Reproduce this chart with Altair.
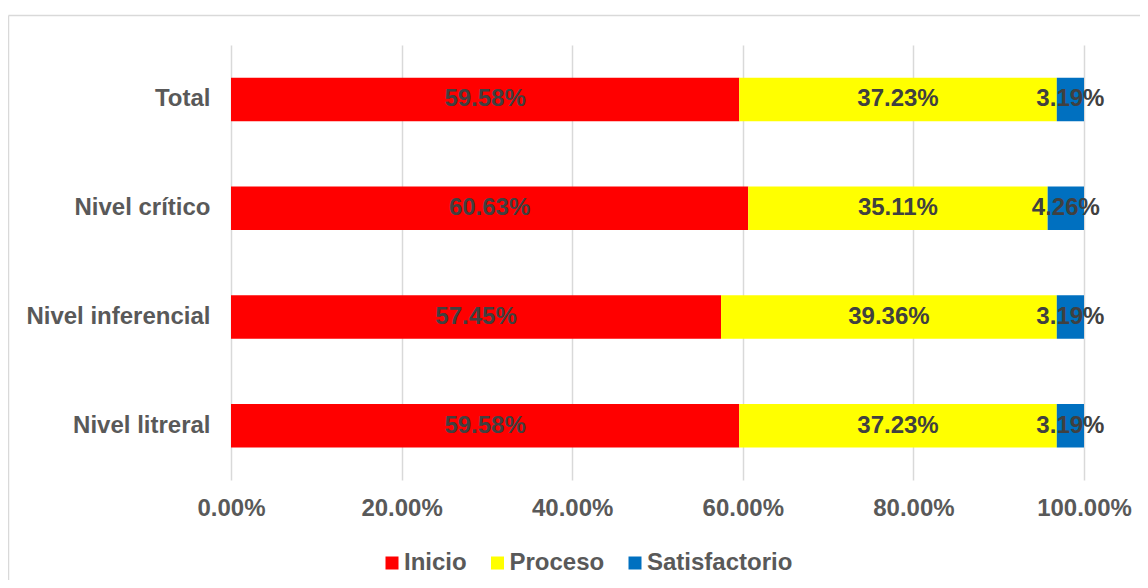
import altair as alt
import pandas as pd

categories = ["Total", "Nivel crítico", "Nivel inferencial", "Nivel litreral"]
series = ["Inicio", "Proceso", "Satisfactorio"]
inicio = [59.58, 60.63, 57.45, 59.58]
proceso = [37.23, 35.11, 39.36, 37.23]
satisfactorio = [3.19, 4.26, 3.19, 3.19]
colors = ["#FF0000", "#FFFF00", "#0070C0"]
x_ticks = [0, 0.2, 0.4, 0.6, 0.8, 1.0]

rows = []
for i, c in enumerate(categories):
    for k, (s, vals) in enumerate(zip(series, [inicio, proceso, satisfactorio])):
        rows.append({"cat": c, "serie": s, "order": k, "value": vals[i] / 100})
df = pd.DataFrame(rows)

FONT = "Liberation Sans"
W, H = 853, 435
PAD = {"left": 223, "top": 37, "right": 56, "bottom": 100}

base = alt.Chart(df)

xscale = alt.Scale(domain=[0, 1], nice=False, zero=True)
yscale = alt.Scale(domain=categories, paddingInner=0.6, paddingOuter=0.3)
xaxis = alt.Axis(values=x_ticks, format=".2%", title=None,
                 labelFont=FONT, labelFontSize=24, labelFontWeight="bold",
                 labelColor="#595959", ticks=False, domain=False,
                 grid=True, gridColor="#d9d9d9", gridWidth=1.5,
                 labelPadding=16, labelFlush=False, labelOverlap=False)
yaxis = alt.Axis(labelFont=FONT, labelFontSize=24, labelFontWeight="bold",
                 labelColor="#595959", ticks=False, domain=False,
                 grid=False, labelPadding=21, labelLimit=400)

bars = base.mark_bar().encode(
    x=alt.X("value:Q", stack="zero", scale=xscale, axis=xaxis),
    y=alt.Y("cat:N", sort=categories, scale=yscale, title=None, axis=yaxis),
    color=alt.Color("serie:N", scale=alt.Scale(domain=series, range=colors),
                    legend=alt.Legend(title=None, orient="none", direction="horizontal",
                                      legendX=149, legendY=506,
                                      symbolType="square", symbolSize=169,
                                      symbolStrokeWidth=0, symbolOpacity=1,
                                      labelFont=FONT, labelFontSize=24,
                                      labelFontWeight="bold", labelColor="#595959",
                                      labelOffset=0, columnPadding=18.5, padding=0,
                                      labelLimit=300)),
    order=alt.Order("order:Q"),
)

labels = base.transform_stack(
    stack="value", groupby=["cat"], as_=["x0", "x1"],
    sort=[alt.SortField("order", order="ascending")],
).transform_calculate(
    mid="(datum.x0 + datum.x1) / 2"
).mark_text(
    font=FONT, fontSize=24, fontWeight="bold", color="#404040",
    align="center", baseline="middle"
).encode(
    x=alt.X("mid:Q", scale=xscale, axis=xaxis),
    y=alt.Y("cat:N", sort=categories, scale=yscale, title=None, axis=yaxis),
    text=alt.Text("value:Q", format=".2%"),
)

border_data = alt.Data(values=[{"k": 1}])
top_border = alt.Chart(border_data).mark_rule(color="#d9d9d9", strokeWidth=1.5).encode(
    x=alt.value(-222.5), x2=alt.value(W + PAD["right"]), y=alt.value(-29.5)
)
left_border = alt.Chart(border_data).mark_rule(color="#d9d9d9", strokeWidth=1.5).encode(
    x=alt.value(-222.5), y=alt.value(-29.5), y2=alt.value(H + PAD["bottom"])
)

chart = alt.layer(bars, labels, top_border, left_border).properties(
    width=W, height=H,
    autosize=alt.AutoSizeParams(type="none"),
    padding=PAD,
    background="white",
).configure_view(stroke=None)

chart.save("out.html", embed_options={"renderer": "svg", "actions": False})
